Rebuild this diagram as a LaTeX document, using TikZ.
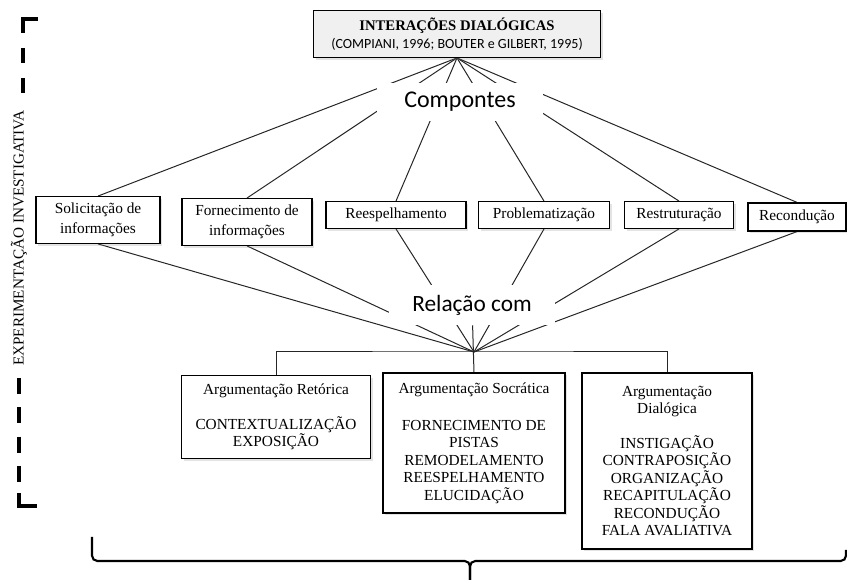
\documentclass[tikz,border=0pt]{standalone}
\usepackage{fontspec}
\setmainfont{Liberation Serif}
\newfontfamily\calibfont{Carlito}
\usetikzlibrary{
        backgrounds,
        positioning,
        shadows
    }
\tikzset{liga/.style={draw=black!85,line width=0.75pt}}
\tikzset{caixa/.style={draw,line width=0.9pt,fill=white,align=center,inner sep=1pt,
        drop shadow={shadow xshift=1.8pt,shadow yshift=-1.8pt,opacity=0.22},
        font=\fontsize{11.5}{15}\selectfont}}
\tikzset{bloco/.style={caixa,font=\fontsize{11.5}{13.1}\selectfont}}
\tikzset{rotulo/.style={fill=white,font=\calibfont\fontsize{18}{20}\selectfont,minimum width=124pt,minimum height=28pt}}
\tikzset{tracos/.style={line width=3pt}}
\tikzset{chave/.style={line width=1.6pt,rounded corners=4pt}}

\begin{document}
\begin{tikzpicture}[x=0.75pt,y=-0.75pt]
        \useasboundingbox (0,0) rectangle (847,580);
        \node[caixa,fill=black!6,minimum width=215pt,minimum height=35pt,font=\fontsize{11}{13.5}\selectfont] (top) at (457,34)
            {\textbf{INTERAÇÕES DIALÓGICAS}\\{\calibfont\fontsize{10.5}{12}\selectfont(COMPIANI,\ 1996; BOUTER e GILBERT, 1995)}};
        \node[rotulo] (comp) at (460,102) {Compontes};
        \node[caixa,minimum width=93pt,minimum height=35pt] (sol) at (98,220) {Solicitação de\\informações};
        \node[caixa,minimum width=97.5pt,minimum height=35pt] (forn) at (247,222) {Fornecimento de\\informações};
        \node[caixa,minimum width=105pt,minimum height=20pt] (rees) at (396,215) {Reespelhamento};
        \node[caixa,minimum width=98pt,minimum height=20pt] (prob) at (544,215) {Problematização};
        \node[caixa,minimum width=82pt,minimum height=20pt] (rest) at (679,215) {Restruturação};
        \node[caixa,minimum width=73.5pt,minimum height=21pt] (recd) at (797,217) {Recondução};
        \node[rotulo,font=\calibfont\fontsize{17.5}{20}\selectfont,minimum height=30pt] (rel) at (472,305) {Relação com};
        \coordinate (hub) at (474,352);
        \node[bloco,minimum width=141.75pt,minimum height=62pt] (ret) at (276,417)
            {Argumentação Retórica\\[13pt]CONTEXTUALIZAÇÃO\\EXPOSIÇÃO};
        \node[bloco,minimum width=136.5pt,minimum height=105pt] (soc) at (474,443)
            {Argumentação Socrática\\[15pt]FORNECIMENTO DE\\PISTAS\\REMODELAMENTO\\REESPELHAMENTO\\ELUCIDAÇÃO};
        \node[bloco,minimum width=127.5pt,minimum height=132pt] (dia) at (667,461)
            {Argumentação\\Dialógica\\[13pt]INSTIGAÇÃO\\CONTRAPOSIÇÃO\\ORGANIZAÇÃO\\RECAPITULAÇÃO\\RECONDUÇÃO\\FALA AVALIATIVA};
        \begin{pgfonlayer}{background}
        \foreach \n in {sol,forn,rees,prob,rest,recd} {
            \draw[liga] (top.south) -- (\n.north);
            \draw[liga] (\n.south) -- (hub);
        }
        \draw[liga] (rel) -- (soc.north);
        \draw[liga] (ret.north) |- (hub) -| (dia.north);
        \end{pgfonlayer}
        \node[rotate=90,font=\fontsize{11.4}{13}\selectfont] (exp) at (19,238) {EXPERIMENTAÇÃO INVESTIGATIVA};
        \draw[tracos] (38,19) -- (23,19) -- (23,33);
        \draw[tracos,dash pattern=on 11.25pt off 11.25pt] (23,48) -- (23,93);
        \draw[tracos,dash pattern=on 12pt off 10pt] (19,378) -- (19,483);
        \draw[tracos] (19,493) -- (19,506) -- (37,506);
        \draw[chave] (92,537) |- (470,561) -- (470,580);
        \draw[chave] (470,580) -- (470,561) -| (846,550);
\end{tikzpicture}
\end{document}
